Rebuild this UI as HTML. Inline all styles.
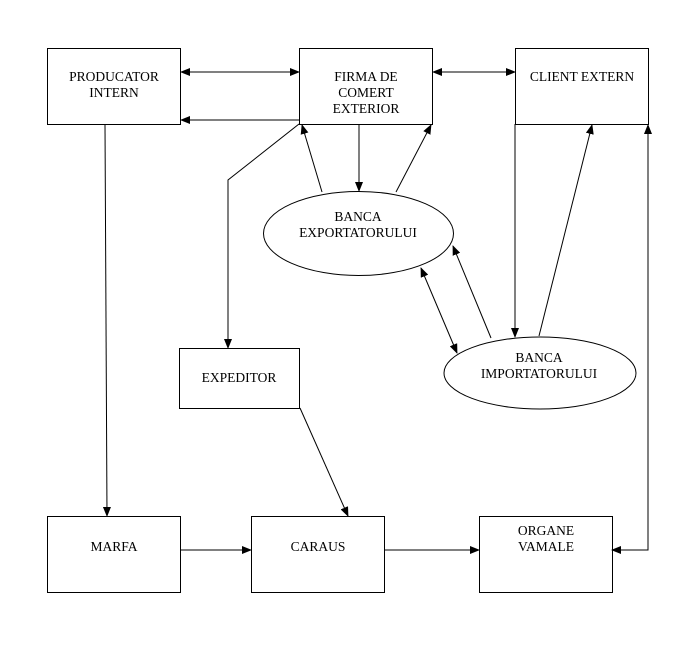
<!DOCTYPE html>
<html><head><style>body{margin:0;background:#fff}svg{display:block}text{font-family:"Liberation Serif",serif;font-size:13.5px;fill:#000}</style></head><body>
<svg width="684" height="648" viewBox="0 0 684 648">
<defs><marker id="a" markerWidth="10" markerHeight="8" refX="9" refY="4" orient="auto-start-reverse" markerUnits="userSpaceOnUse"><path d="M0,0L10,4L0,8z" fill="#000"/></marker></defs>
<g fill="none" stroke="#000" stroke-width="1">
<rect x="47.5" y="48.5" width="133" height="76"/>
<rect x="299.5" y="48.5" width="133" height="76"/>
<rect x="515.5" y="48.5" width="133" height="76"/>
<rect x="179.5" y="348.5" width="120" height="60"/>
<rect x="47.5" y="516.5" width="133" height="76"/>
<rect x="251.5" y="516.5" width="133" height="76"/>
<rect x="479.5" y="516.5" width="133" height="76"/>
<ellipse cx="358.5" cy="233.5" rx="95" ry="42"/>
<ellipse cx="540" cy="373" rx="96" ry="36"/>
<line x1="181" y1="72" x2="299" y2="72" marker-start="url(#a)" marker-end="url(#a)"/>
<line x1="433" y1="72" x2="515" y2="72" marker-start="url(#a)" marker-end="url(#a)"/>
<line x1="299" y1="120" x2="181" y2="120" marker-end="url(#a)"/>
<polyline points="299,124 228,180 228,348" marker-end="url(#a)"/>
<line x1="359" y1="124" x2="359" y2="191" marker-end="url(#a)"/>
<line x1="322" y1="192" x2="302" y2="125" marker-end="url(#a)"/>
<line x1="396" y1="192" x2="431" y2="125" marker-end="url(#a)"/>
<line x1="105" y1="124" x2="107" y2="516" marker-end="url(#a)"/>
<line x1="515" y1="124" x2="515" y2="337" marker-end="url(#a)"/>
<line x1="539" y1="336" x2="592" y2="125" marker-end="url(#a)"/>
<polyline points="612,550 648,550 648,125" marker-start="url(#a)" marker-end="url(#a)"/>
<line x1="421" y1="268" x2="457" y2="353" marker-start="url(#a)" marker-end="url(#a)"/>
<line x1="491" y1="338" x2="453" y2="246" marker-end="url(#a)"/>
<line x1="300" y1="408" x2="348" y2="516" marker-end="url(#a)"/>
<line x1="180" y1="550" x2="251" y2="550" marker-end="url(#a)"/>
<line x1="384" y1="550" x2="479" y2="550" marker-end="url(#a)"/>
</g>
<g text-anchor="middle">
<text x="114" y="81">PRODUCATOR</text><text x="114" y="97">INTERN</text>
<text x="366" y="81">FIRMA DE</text><text x="366" y="97">COMERT</text><text x="366" y="113">EXTERIOR</text>
<text x="582" y="81">CLIENT EXTERN</text>
<text x="358" y="221">BANCA</text><text x="358" y="237">EXPORTATORULUI</text>
<text x="539" y="362">BANCA</text><text x="539" y="378">IMPORTATORULUI</text>
<text x="239" y="382">EXPEDITOR</text>
<text x="114" y="551">MARFA</text>
<text x="318" y="551">CARAUS</text>
<text x="546" y="535">ORGANE</text><text x="546" y="551">VAMALE</text>
</g>
</svg>
</body></html>
